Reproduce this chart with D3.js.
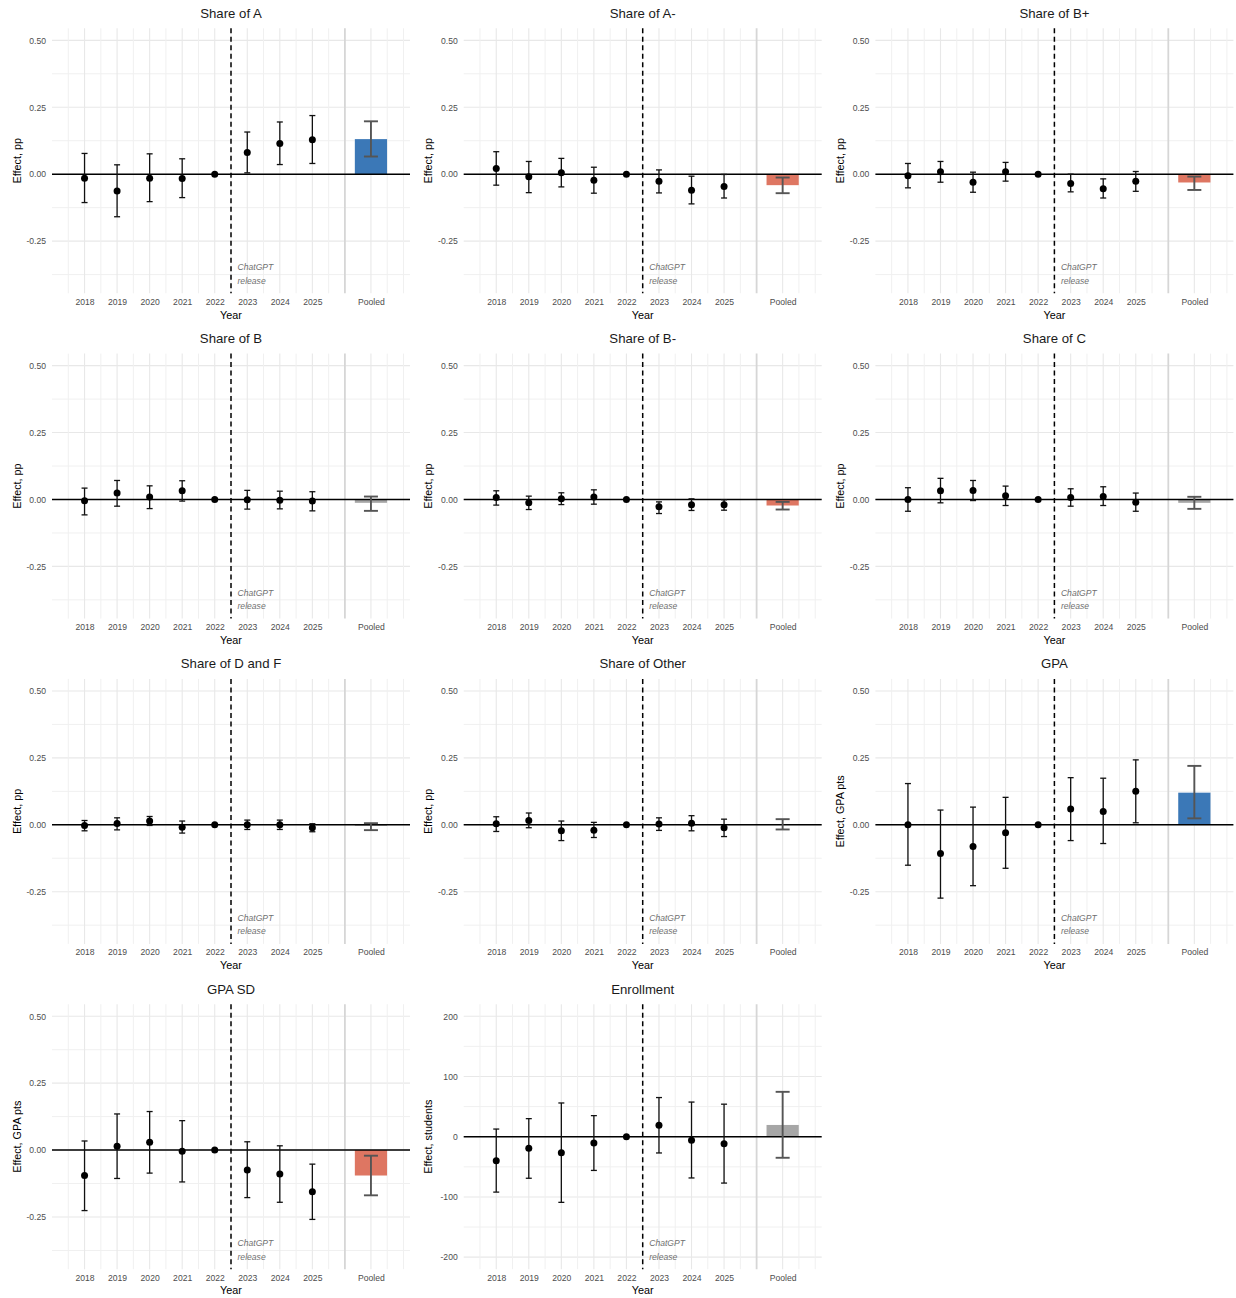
<!DOCTYPE html>
<html><head><meta charset="utf-8">
<script src="https://cdn.jsdelivr.net/npm/d3@7"></script>
<style>
body{margin:0;background:#fff;}
text{font-family:"Liberation Sans",Arial,Helvetica,sans-serif;}
</style>
</head><body>
<svg id="chart" width="1236" height="1298"></svg>
<script>
// ---------- data ----------
const panelTitles = ["Share of A","Share of A-","Share of B+","Share of B","Share of B-","Share of C",
  "Share of D and F","Share of Other","GPA","GPA SD","Enrollment"];
const yAxisTitles = ["Effect, pp","Effect, pp","Effect, pp","Effect, pp","Effect, pp","Effect, pp",
  "Effect, pp","Effect, pp","Effect, GPA pts","Effect, GPA pts","Effect, students"];
const yearLabels = ["2018","2019","2020","2021","2022","2023","2024","2025"];
const pooledLabel = "Pooled";
const axisXTitle = "Year";
const annotationLines = ["ChatGPT","release"];

// point estimates per panel, 2018..2025 (2022 = reference year)
const pointEst = [
  [-0.015,-0.0625,-0.015,-0.016,0,0.081,0.115,0.129],
  [0.021,-0.010,0.005,-0.0225,0,-0.026,-0.060,-0.046],
  [-0.006,0.009,-0.030,0.009,0,-0.035,-0.054,-0.026],
  [-0.005,0.024,0.009,0.0325,0,-0.001,-0.0025,-0.006],
  [0.0075,-0.0125,0.0025,0.009,0,-0.0275,-0.020,-0.020],
  [0.000,0.0325,0.034,0.014,0,0.0075,0.011,-0.010],
  [-0.0025,0.005,0.014,-0.009,0,0.000,0.000,-0.011],
  [0.004,0.016,-0.0225,-0.020,0,0.0025,0.006,-0.011],
  [0.000,-0.1075,-0.081,-0.030,0,0.059,0.050,0.125],
  [-0.095,0.014,0.029,-0.004,0,-0.074,-0.089,-0.156],
  [-40,-19,-26.5,-10.5,0,19,-6,-11.5]
];
const ciLow = [
  [-0.106,-0.159,-0.1025,-0.0875,null,0.005,0.036,0.040],
  [-0.041,-0.069,-0.0475,-0.071,null,-0.070,-0.111,-0.089],
  [-0.051,-0.030,-0.0675,-0.026,null,-0.066,-0.089,-0.064],
  [-0.0575,-0.025,-0.034,-0.006,null,-0.036,-0.035,-0.0425],
  [-0.021,-0.0375,-0.019,-0.0175,null,-0.0525,-0.041,-0.040],
  [-0.044,-0.0125,-0.004,-0.0225,null,-0.025,-0.0225,-0.044],
  [-0.0225,-0.019,-0.0025,-0.031,null,-0.0175,-0.0175,-0.026],
  [-0.025,-0.011,-0.059,-0.0475,null,-0.021,-0.0225,-0.044],
  [-0.151,-0.274,-0.2275,-0.1625,null,-0.059,-0.070,0.0075],
  [-0.226,-0.106,-0.086,-0.119,null,-0.1775,-0.195,-0.259],
  [-92,-69,-109,-56,null,-27,-68.5,-77]
];
const ciHigh = [
  [0.0775,0.035,0.076,0.0575,null,0.1575,0.195,0.219],
  [0.084,0.0475,0.059,0.026,null,0.016,-0.0075,-0.001],
  [0.040,0.0475,0.0075,0.044,null,0.000,-0.0175,0.010],
  [0.0425,0.071,0.051,0.070,null,0.034,0.031,0.029],
  [0.0325,0.0125,0.025,0.036,null,-0.009,0.0025,-0.001],
  [0.044,0.079,0.071,0.050,null,0.040,0.0475,0.024],
  [0.016,0.026,0.031,0.014,null,0.0175,0.0175,0.004],
  [0.030,0.044,0.014,0.009,null,0.026,0.034,0.021],
  [0.154,0.055,0.066,0.1025,null,0.176,0.174,0.2425],
  [0.034,0.135,0.144,0.110,null,0.031,0.016,-0.0525],
  [12.7,30,56,35,null,65,57.5,54]
];
const pooledEst  = [0.131,-0.041,-0.031,-0.0125,-0.0225,-0.0125,-0.004,0.002,0.120,-0.095,19.5];
const pooledLow  = [0.066,-0.071,-0.059,-0.0425,-0.0375,-0.035,-0.020,-0.0175,0.024,-0.169,-35];
const pooledHigh = [0.1975,-0.0125,-0.009,0.011,-0.009,0.010,0.006,0.021,0.220,-0.021,74.5];
const pooledSign = ["pos","neg","neg","ns","neg","ns","ns","ns","pos","neg","ns"];

const ppLimits = [-0.4, 0.5];
const ppTicks = [-0.25, 0, 0.25, 0.5];
const ppTickLabels = ["-0.25","0.00","0.25","0.50"];
const ppMinorTicks = [-0.375,-0.125,0.125,0.375];
const studentLimits = [-200, 200];
const studentTicks = [-200,-100,0,100,200];
const studentTickLabels = ["-200","-100","0","100","200"];
const studentMinorTicks = [-150,-50,50,150];

// ---------- layout ----------
const signColor = {pos:"#3b78b7", neg:"#de7662", ns:"#a6a6a6"};
const colW = 411.7, rowH = 325.3;
const pl = 52, pr = 410, pt = 28.3, pb = 293.3;
const svg = d3.select("#chart");
svg.append("rect").attr("width",1236).attr("height",1298).attr("fill","#fff");

const yearPos = yearLabels.map(Number);
const pooledPos = 2026.8;
const x = d3.scaleLinear().domain([2017, 2028]).range([pl, pr]);

panelTitles.forEach((title, i) => {
  const col = i % 3, row = Math.floor(i / 3);
  const g = svg.append("g").attr("transform", `translate(${col*colW},${row*rowH})`);
  const isStudents = i === 10;
  const lim = isStudents ? studentLimits : ppLimits;
  const pad = (lim[1]-lim[0]) * 0.05;
  const y = d3.scaleLinear().domain([lim[0]-pad, lim[1]+pad]).range([pb, pt]);
  const ticks = isStudents ? studentTicks : ppTicks;
  const tickLabels = isStudents ? studentTickLabels : ppTickLabels;
  const minor = isStudents ? studentMinorTicks : ppMinorTicks;

  // grid
  const grid = g.append("g");
  minor.forEach(v => grid.append("line").attr("x1",pl).attr("x2",pr).attr("y1",y(v)).attr("y2",y(v))
    .attr("stroke","#f0f0f0").attr("stroke-width",1));
  ticks.forEach(v => grid.append("line").attr("x1",pl).attr("x2",pr).attr("y1",y(v)).attr("y2",y(v))
    .attr("stroke","#e8e8e8").attr("stroke-width",1.1));
  const vMinor = d3.range(2017.5, 2026, 1).concat([pooledPos+0.5, pooledPos+1.0]);
  vMinor.forEach(v => grid.append("line").attr("x1",x(v)).attr("x2",x(v)).attr("y1",pt).attr("y2",pb)
    .attr("stroke","#f0f0f0").attr("stroke-width",1));
  yearPos.concat([pooledPos]).forEach(v => grid.append("line").attr("x1",x(v)).attr("x2",x(v)).attr("y1",pt).attr("y2",pb)
    .attr("stroke","#e8e8e8").attr("stroke-width",1.1));

  // separator before pooled
  g.append("line").attr("x1",x(2026)).attr("x2",x(2026)).attr("y1",pt).attr("y2",pb)
    .attr("stroke","#d6d6d6").attr("stroke-width",1.8);

  // dashed ChatGPT release line
  g.append("line").attr("x1",x(2022.5)).attr("x2",x(2022.5)).attr("y1",pt).attr("y2",pb)
    .attr("stroke","#000").attr("stroke-width",1.5).attr("stroke-dasharray","5,3.5");

  // annotation
  const ann = g.append("text").attr("x", x(2022.5)+6.5).attr("y", pt + (pb-pt)*0.902 + 3)
    .attr("font-size",8.6).attr("font-style","italic").attr("fill","#707070");
  annotationLines.forEach((t, k) => ann.append("tspan").attr("x", x(2022.5)+6.5).attr("dy", k===0?0:13.3).text(t));

  // pooled bar
  const pe = pooledEst[i];
  g.append("rect").attr("x", x(pooledPos-0.495)).attr("width", x(pooledPos+0.495)-x(pooledPos-0.495))
    .attr("y", y(Math.max(0,pe))).attr("height", Math.abs(y(pe)-y(0)))
    .attr("fill", signColor[pooledSign[i]]);

  // zero line
  g.append("line").attr("x1",pl).attr("x2",pr).attr("y1",y(0)).attr("y2",y(0))
    .attr("stroke","#000").attr("stroke-width",1.5);

  // pooled error bar
  const pc = x(pooledPos);
  const pg = g.append("g").attr("stroke","#555").attr("stroke-width",1.9);
  pg.append("line").attr("x1",pc).attr("x2",pc).attr("y1",y(pooledLow[i])).attr("y2",y(pooledHigh[i]));
  [pooledLow[i], pooledHigh[i]].forEach(v => pg.append("line").attr("x1",pc-7).attr("x2",pc+7).attr("y1",y(v)).attr("y2",y(v)));

  // yearly error bars
  const eg = g.append("g").attr("stroke","#111").attr("stroke-width",1.3);
  yearPos.forEach((yr, k) => {
    const lo = ciLow[i][k], hi = ciHigh[i][k];
    if (lo === null) return;
    const cx = x(yr);
    eg.append("line").attr("x1",cx).attr("x2",cx).attr("y1",y(lo)).attr("y2",y(hi));
    [lo, hi].forEach(v => eg.append("line").attr("x1",cx-3).attr("x2",cx+3).attr("y1",y(v)).attr("y2",y(v)));
  });
  // points
  g.append("g").selectAll("circle").data(pointEst[i]).join("circle")
    .attr("cx", (d,k) => x(yearPos[k])).attr("cy", d => y(d)).attr("r",3.5).attr("fill","#000");

  // y axis tick labels
  const yAxis = g.append("g").attr("transform",`translate(${pl},0)`)
    .call(d3.axisLeft(y).tickValues(ticks).tickFormat((d,k)=>tickLabels[k]).tickSize(0).tickPadding(6));
  yAxis.select(".domain").remove();
  yAxis.selectAll("text").attr("font-size",8.6).attr("fill","#4d4d4d")
    .attr("font-family",'"Liberation Sans",Arial,sans-serif');

  // x axis tick labels
  const xAxis = g.append("g").attr("transform",`translate(0,${pb})`)
    .call(d3.axisBottom(x).tickValues(yearPos.concat([pooledPos]))
      .tickFormat((d,k)=> k < yearLabels.length ? yearLabels[k] : pooledLabel).tickSize(0).tickPadding(5.5));
  xAxis.select(".domain").remove();
  xAxis.selectAll("text").attr("font-size",8.6).attr("fill","#4d4d4d")
    .attr("font-family",'"Liberation Sans",Arial,sans-serif');

  // titles
  g.append("text").attr("x",(pl+pr)/2).attr("y",17.8).attr("text-anchor","middle")
    .attr("font-size",13.2).attr("fill","#1a1a1a").text(title);
  g.append("text").attr("x",(pl+pr)/2).attr("y",318.5).attr("text-anchor","middle")
    .attr("font-size",10.8).attr("fill","#000").text(axisXTitle);
  g.append("text").attr("transform",`translate(20.5,${(pt+pb)/2}) rotate(-90)`).attr("text-anchor","middle")
    .attr("font-size",10.8).attr("fill","#000").text(yAxisTitles[i]);
});
</script>
</body></html>
